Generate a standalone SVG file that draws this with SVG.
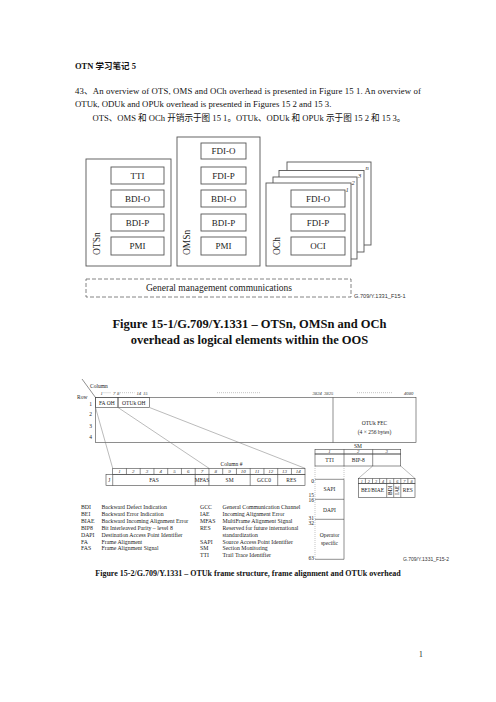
<svg xmlns="http://www.w3.org/2000/svg" width="496" height="702" viewBox="0 0 496 702">
<style>
.t{font-family:"Liberation Serif","Noto Sans CJK SC",serif;fill:#111}
.b{fill:#fff;stroke:#555;stroke-width:0.9}
.bt{font-family:"Liberation Serif",serif;font-size:9px;text-anchor:middle;fill:#222}
.lb{font-family:"Liberation Serif",serif;font-size:9.5px;fill:#222}
.it{font-family:"Liberation Serif",serif;font-style:italic;fill:#333}
.s{fill:none;stroke:#444;stroke-width:0.6}
.c{fill:none;stroke:#777;stroke-width:0.5}
.d{fill:none;stroke:#888;stroke-width:0.5;stroke-dasharray:1,1}
.f{font-family:"Liberation Serif",serif;font-size:5.5px;fill:#222}
.fm{font-family:"Liberation Serif",serif;font-size:5.5px;fill:#222;text-anchor:middle}
.lg{font-family:"Liberation Serif",serif;font-size:5.8px;fill:#222}
.sans{font-family:"Liberation Sans",sans-serif;fill:#333}
</style>

<g id="header-text">
<text class="t" x="75" y="69" font-size="8.5" font-weight="bold">OTN 学习笔记 5</text>
<text class="t" x="75" y="93.5" font-size="8.75" textLength="346" lengthAdjust="spacing">43、An overview of OTS, OMS and OCh overhead is presented in Figure 15 1. An overview of</text>
<text class="t" x="75" y="107" font-size="8.75">OTUk, ODUk and OPUk overhead is presented in Figures 15 2 and 15 3.</text>
<text class="t" x="92.5" y="120.5" font-size="8.6">OTS、OMS 和 OCh 开销示于图 15 1。OTUk、ODUk 和 OPUk 示于图 15 2 和 15 3。</text>
</g>

<!-- Figure 15-1 -->
<g id="otsn">
<rect class="b" x="86" y="159" width="85" height="107"/>
<rect class="b" x="111" y="167" width="53" height="17"/>
<rect class="b" x="111" y="190" width="53" height="17"/>
<rect class="b" x="111" y="214" width="53" height="17"/>
<rect class="b" x="111" y="237" width="53" height="18"/>
<text class="bt" x="137.5" y="178.8">TTI</text>
<text class="bt" x="137.5" y="201.8">BDI-O</text>
<text class="bt" x="137.5" y="225.8">BDI-P</text>
<text class="bt" x="137.5" y="249.2">PMI</text>
<text class="lb" transform="translate(99.5,255) rotate(-90)">OTSn</text>
</g>

<g id="omsn">
<rect class="b" x="177" y="137" width="83" height="129"/>
<rect class="b" x="201" y="143" width="45" height="16"/>
<rect class="b" x="201" y="167" width="45" height="17"/>
<rect class="b" x="201" y="190" width="45" height="17"/>
<rect class="b" x="201" y="214" width="45" height="17"/>
<rect class="b" x="201" y="237" width="45" height="18"/>
<text class="bt" x="223.5" y="154.3">FDI-O</text>
<text class="bt" x="223.5" y="178.8">FDI-P</text>
<text class="bt" x="223.5" y="201.8">BDI-O</text>
<text class="bt" x="223.5" y="225.8">BDI-P</text>
<text class="bt" x="223.5" y="249.2">PMI</text>
<text class="lb" transform="translate(189.5,255) rotate(-90)">OMSn</text>
</g>

<g id="och">
<rect class="b" x="287" y="162" width="84" height="83"/>
<rect class="b" x="279" y="170.5" width="85" height="81.5"/>
<rect class="b" x="273" y="177" width="84" height="82"/>
<rect class="b" x="266" y="183" width="85" height="83"/>
<text class="it" x="365.5" y="170" font-size="6.5">n</text>
<text class="it" x="358" y="178" font-size="6.5">3</text>
<text class="it" x="351.5" y="184.5" font-size="6.5">2</text>
<text class="it" x="345.5" y="191.5" font-size="6.5">1</text>
<rect class="b" x="291" y="190" width="54" height="17"/>
<rect class="b" x="291" y="214" width="54" height="17"/>
<rect class="b" x="291" y="237" width="54" height="18"/>
<text class="bt" x="318" y="201.8">FDI-O</text>
<text class="bt" x="318" y="225.8">FDI-P</text>
<text class="bt" x="318" y="249.2">OCI</text>
<text class="lb" transform="translate(279.5,255) rotate(-90)">OCh</text>
</g>

<g id="gmc">
<rect x="86" y="279" width="265" height="18" fill="none" stroke="#666" stroke-width="0.8" stroke-dasharray="4,2"/>
<text class="lb" x="219" y="291" text-anchor="middle">General management communications</text>
<text class="sans" x="354" y="297.5" font-size="5.6">G.709/Y.1331_F15-1</text>
</g>

<g id="caption1">
<text class="t" x="249.5" y="328" font-size="12.5" font-weight="bold" text-anchor="middle">Figure 15-1/G.709/Y.1331 – OTSn, OMSn and OCh</text>
<text class="t" x="249.5" y="344" font-size="12.5" font-weight="bold" text-anchor="middle">overhead as logical elements within the OOS</text>
</g>

<!-- Figure 15-2 -->
<g id="frame">
<line class="s" x1="82" y1="379" x2="95.5" y2="397.5"/>
<text class="f" x="90" y="388">Column</text>
<text class="f" x="77" y="399">Row</text>
<g class="it" font-size="4.7">
<text x="100.5" y="394.5">1</text>
<text x="113" y="394.5">7</text>
<text x="117" y="394.5">8</text>
<text x="136.5" y="394.5">14</text>
<text x="143" y="394.5">15</text>
<text x="312.5" y="394.5">3824</text>
<text x="324" y="394.5">3825</text>
<text x="404" y="394.5">4080</text>
</g>
<path class="d" d="M103.5 392.7H111.5M120 392.7H134.5M217 392.7H260M357 392.7H393"/>
<rect class="s" x="95.5" y="397.5" width="320.5" height="45"/>
<line class="s" x1="333" y1="397.5" x2="333" y2="442.5"/>
<rect class="s" x="95.5" y="397.5" width="22.5" height="10"/>
<rect class="s" x="118" y="397.5" width="31.5" height="10"/>
<text class="fm" x="106.8" y="404.5">FA OH</text>
<text class="fm" x="133.8" y="404.5">OTUk OH</text>
<text class="fm" x="90.5" y="405.5">1</text>
<text class="fm" x="90.5" y="416">2</text>
<text class="fm" x="90.5" y="428">3</text>
<text class="fm" x="90.5" y="438.8">4</text>
<text class="fm" x="374.5" y="425" font-size="6">OTUk FEC</text>
<text class="fm" x="374.5" y="433.5" font-size="6">(4 × 256 bytes)</text>
</g>

<g id="connectors">
<line class="c" x1="95.5" y1="407.5" x2="112.7" y2="468.3"/>
<line class="c" x1="118" y1="407.5" x2="209" y2="468.3"/>
<line class="c" x1="149.5" y1="407.5" x2="305" y2="468.3"/>
<line class="c" x1="372.7" y1="466" x2="358.3" y2="478.5"/>
<line class="c" x1="400.7" y1="466" x2="415" y2="478.5"/>
<path class="d" d="M315 466V559.3M344 466V479.3"/>
</g>

<g id="oh-row">
<text class="fm" x="231.5" y="466">Column #</text>
<rect class="s" x="112.7" y="468.3" width="192.3" height="6"/>
<path class="s" d="M126.45 468.3v6M140.2 468.3v6M153.95 468.3v6M167.7 468.3v6M181.45 468.3v6M195.2 468.3v6M208.95 468.3v6M222.7 468.3v6M236.45 468.3v6M250.2 468.3v6M263.95 468.3v6M277.7 468.3v6M291.45 468.3v6"/>
<g class="it" font-size="5" text-anchor="middle">
<text x="119.6" y="473.2">1</text><text x="133.3" y="473.2">2</text><text x="147.1" y="473.2">3</text><text x="160.8" y="473.2">4</text><text x="174.6" y="473.2">5</text><text x="188.3" y="473.2">6</text><text x="202.1" y="473.2">7</text><text x="215.8" y="473.2">8</text><text x="229.6" y="473.2">9</text><text x="243.3" y="473.2">10</text><text x="257.1" y="473.2">11</text><text x="270.8" y="473.2">12</text><text x="284.6" y="473.2">13</text><text x="298.3" y="473.2">14</text>
</g>
<rect class="s" x="106" y="474.3" width="199" height="11.4"/>
<path class="s" d="M112.7 474.3v11.4M195.2 474.3v11.4M208.95 474.3v11.4M250.2 474.3v11.4M277.7 474.3v11.4"/>
<text class="fm" x="109.3" y="482">J</text>
<text class="fm" x="154" y="482">FAS</text>
<text class="fm" x="202.1" y="481.5" font-size="3.6">MFAS</text>
<text class="fm" x="229.6" y="482">SM</text>
<text class="fm" x="264" y="482">GCC0</text>
<text class="fm" x="291.4" y="482">RES</text>
</g>

<g id="sm">
<text class="fm" x="358" y="447.8">SM</text>
<rect class="s" x="315" y="449.3" width="85.7" height="4.7"/>
<rect class="s" x="315" y="454" width="85.7" height="12"/>
<path class="s" d="M344 449.3v16.7M372.7 449.3v16.7"/>
<g class="it" font-size="4.8" text-anchor="middle">
<text x="329.5" y="453.3">1</text><text x="358.3" y="453.3">2</text><text x="386.7" y="453.3">3</text>
</g>
<text class="fm" x="329.5" y="462">TTI</text>
<text class="fm" x="358.3" y="462" font-size="5">BIP-8</text>
</g>

<g id="tti">
<path class="s" d="M315 479.3H344V559.3H315M315 499.3H344M315 519.3H344"/>
<g class="f" font-size="4.6" text-anchor="end">
<text x="314" y="483">0</text><text x="314" y="497">15</text><text x="314" y="502">16</text><text x="314" y="519.5">31</text><text x="314" y="525">32</text><text x="314" y="560">63</text>
</g>
<text class="fm" x="329.5" y="491">SAPI</text>
<text class="fm" x="329.5" y="511.5">DAPI</text>
<text class="fm" x="329.5" y="537">Operator</text>
<text class="fm" x="329.5" y="545">specific</text>
</g>

<g id="sm-byte3">
<rect class="s" x="358.3" y="478.5" width="56.7" height="4.8"/>
<path class="s" d="M365.4 478.5v4.8M372.5 478.5v4.8M379.6 478.5v4.8M386.7 478.5v4.8M393.7 478.5v4.8M400.8 478.5v4.8M407.9 478.5v4.8"/>
<g class="it" font-size="4.3" text-anchor="middle">
<text x="361.8" y="482.6">1</text><text x="368.9" y="482.6">2</text><text x="376" y="482.6">3</text><text x="383.1" y="482.6">4</text><text x="390.2" y="482.6">5</text><text x="397.3" y="482.6">6</text><text x="404.4" y="482.6">7</text><text x="411.5" y="482.6">8</text>
</g>
<rect class="s" x="358.3" y="483.3" width="56.7" height="14"/>
<path class="s" d="M386.7 483.3v14M393.7 483.3v14M400.8 483.3v14"/>
<text class="fm" x="372.5" y="491.8" font-size="5">BEI/BIAE</text>
<text class="fm" font-size="4" transform="translate(391.7,490.3) rotate(-90)">BDI</text>
<text class="fm" font-size="4" transform="translate(398.8,490.3) rotate(-90)">IAE</text>
<text class="fm" x="407.9" y="492" font-size="5">RES</text>
<text class="sans" x="403" y="561" font-size="5">G.709/Y.1331_F15-2</text>
</g>

<g id="legend" class="lg">
<text x="81" y="509">BDI</text><text x="101.5" y="509">Backward Defect Indication</text>
<text x="81" y="515.9">BEI</text><text x="101.5" y="515.9">Backward Error Indication</text>
<text x="81" y="522.8">BIAE</text><text x="101.5" y="522.8">Backward Incoming Alignment Error</text>
<text x="81" y="529.7">BIP8</text><text x="101.5" y="529.7">Bit Interleaved Parity – level 8</text>
<text x="81" y="536.6">DAPI</text><text x="101.5" y="536.6">Destination Access Point Identifier</text>
<text x="81" y="543.5">FA</text><text x="101.5" y="543.5">Frame Alignment</text>
<text x="81" y="550.4">FAS</text><text x="101.5" y="550.4">Frame Alignment Signal</text>
<text x="200" y="509">GCC</text><text x="222.5" y="509">General Communication Channel</text>
<text x="200" y="515.9">IAE</text><text x="222.5" y="515.9">Incoming Alignment Error</text>
<text x="200" y="522.8">MFAS</text><text x="222.5" y="522.8">MultiFrame Alignment Signal</text>
<text x="200" y="529.7">RES</text><text x="222.5" y="529.7">Reserved for future international</text>
<text x="222.5" y="536.6">standardization</text>
<text x="200" y="543.5">SAPI</text><text x="222.5" y="543.5">Source Access Point Identifier</text>
<text x="200" y="550.4">SM</text><text x="222.5" y="550.4">Section Monitoring</text>
<text x="200" y="557.3">TTI</text><text x="222.5" y="557.3">Trail Trace Identifier</text>
</g>

<g id="caption2">
<text class="t" x="248" y="576" font-size="8" font-weight="bold" text-anchor="middle">Figure 15-2/G.709/Y.1331 – OTUk frame structure, frame alignment and OTUk overhead</text>
</g>

<text class="t" x="419" y="657" font-size="7.5">1</text>
</svg>
